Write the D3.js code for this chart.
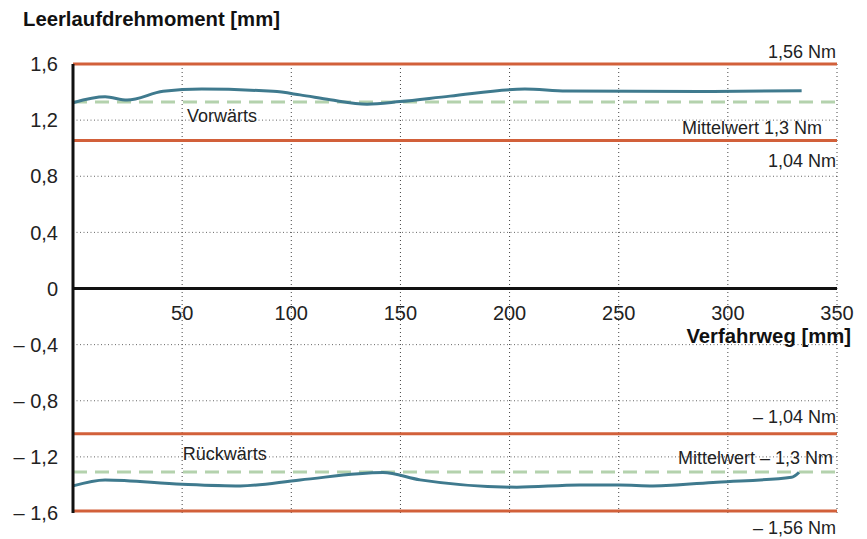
<!DOCTYPE html>
<html>
<head>
<meta charset="utf-8">
<script src="https://cdn.jsdelivr.net/npm/d3@7"></script>
<style>
  body { margin: 0; background: #fff; }
  svg { display: block; font-family: "Liberation Sans", Helvetica, Arial, sans-serif; }
</style>
</head>
<body>
<svg id="svg" width="867" height="539"></svg>
<script>
// forward run (Vorwärts), x in mm, torque value
let forwardX = [0, 14.7, 24.8, 41.3, 59, 91.7, 104, 117.8, 134.7, 149.8, 172.7, 207, 226, 287, 333.8];
let forwardY = [1.324, 1.366, 1.343, 1.405, 1.421, 1.405, 1.38, 1.345, 1.314, 1.332, 1.371, 1.421, 1.407, 1.404, 1.409];

// backward run (Rückwärts)
let backwardX = [0, 14.7, 50, 76.6, 104, 142, 159, 203.3, 232, 250.5, 265.7, 295, 329.2, 332.6];
let backwardY = [-1.407, -1.364, -1.395, -1.407, -1.364, -1.312, -1.364, -1.416, -1.40, -1.40, -1.407, -1.38, -1.345, -1.31];

// limit lines (red) and mean lines (green dashed)
let limitValues = [1.6, 1.055, -1.035, -1.585];
let meanValues = [1.33, -1.307];

let xTicks = [50, 100, 150, 200, 250, 300, 350];
let yTicks = [1.6, 1.2, 0.8, 0.4, 0, -0.4, -0.8, -1.2, -1.6];
let yTickLabels = ["1,6", "1,2", "0,8", "0,4", "0", "\u2013 0,4", "\u2013 0,8", "\u2013 1,2", "\u2013 1,6"];

let limitLabels = ["1,56 Nm", "1,04 Nm", "\u2013 1,04 Nm", "\u2013 1,56 Nm"];
let meanLabels = ["Mittelwert 1,3 Nm", "Mittelwert \u2013 1,3 Nm"];

let red = "#d2603a";
let blue = "#3f7a8e";
let green = "#b4d2ad";

let svg = d3.select("svg");
let margin = {top: 64, right: 30, bottom: 26, left: 73};
let width = 867 - margin.left - margin.right;
let height = 539 - margin.top - margin.bottom;

let x = d3.scaleLinear().domain([0, 350]).range([0, width]);
let y = d3.scaleLinear().domain([-1.6, 1.6]).range([height, 0]);

let g = svg.append("g")
  .attr("transform", "translate(" + margin.left + "," + margin.top + ")");

// dotted grid
g.selectAll(".hgrid")
  .data(yTicks.filter(d => d != 0 && Math.abs(d) < 1.6))
  .enter().append("line")
    .attr("x1", 0).attr("x2", width)
    .attr("y1", d => y(d)).attr("y2", d => y(d))
    .attr("stroke", "#666")
    .attr("stroke-width", 1)
    .attr("stroke-dasharray", "1,2.5");

g.selectAll(".vgrid")
  .data(xTicks)
  .enter().append("line")
    .attr("x1", d => x(d)).attr("x2", d => x(d))
    .attr("y1", 0).attr("y2", height)
    .attr("stroke", "#444")
    .attr("stroke-width", 1)
    .attr("stroke-dasharray", "1,3");

// limit lines
g.selectAll(".limit")
  .data(limitValues)
  .enter().append("line")
    .attr("x1", 0).attr("x2", width)
    .attr("y1", d => y(d)).attr("y2", d => y(d))
    .attr("stroke", red)
    .attr("stroke-width", 3);

// mean lines
g.selectAll(".mean")
  .data(meanValues)
  .enter().append("line")
    .attr("x1", 0).attr("x2", width)
    .attr("y1", d => y(d)).attr("y2", d => y(d))
    .attr("stroke", green)
    .attr("stroke-width", 3)
    .attr("stroke-dasharray", "14,8");

let line = d3.line()
  .x(d => x(d[0]))
  .y(d => y(d[1]))
  .curve(d3.curveMonotoneX);

g.append("path")
  .datum(forwardX.map((v, i) => [v, forwardY[i]]))
  .attr("fill", "none")
  .attr("stroke", blue)
  .attr("stroke-width", 3)
  .attr("stroke-linejoin", "round")
  .attr("d", line);

g.append("path")
  .datum(backwardX.map((v, i) => [v, backwardY[i]]))
  .attr("fill", "none")
  .attr("stroke", blue)
  .attr("stroke-width", 3)
  .attr("stroke-linejoin", "round")
  .attr("d", line);

// axes
g.append("line")
  .attr("x1", 0).attr("x2", width)
  .attr("y1", y(0)).attr("y2", y(0))
  .attr("stroke", "#111").attr("stroke-width", 3);
g.append("line")
  .attr("x1", 0).attr("x2", 0)
  .attr("y1", 0).attr("y2", height)
  .attr("stroke", "#111").attr("stroke-width", 3);

g.selectAll(".ylab")
  .data(yTicks)
  .enter().append("text")
    .attr("x", -15)
    .attr("y", d => y(d))
    .attr("dy", "0.36em")
    .attr("text-anchor", "end")
    .attr("font-size", 20)
    .attr("fill", "#222")
    .text((d, i) => yTickLabels[i]);

g.selectAll(".xlab")
  .data(xTicks)
  .enter().append("text")
    .attr("x", d => x(d))
    .attr("y", y(0) + 31)
    .attr("text-anchor", "middle")
    .attr("font-size", 20)
    .attr("fill", "#222")
    .text(d => d);

// annotations
let labelOffsets = [-6, 27, -11, 23];
g.selectAll(".limlab")
  .data(limitValues)
  .enter().append("text")
    .attr("x", width - 1)
    .attr("y", (d, i) => y(d) + labelOffsets[i])
    .attr("text-anchor", "end")
    .attr("font-size", 18)
    .attr("fill", "#222")
    .text((d, i) => limitLabels[i]);

let meanOffsets = [32, -8];
let meanRight = [width - 15, width - 4];
g.selectAll(".meanlab")
  .data(meanValues)
  .enter().append("text")
    .attr("x", (d, i) => meanRight[i])
    .attr("y", (d, i) => y(d) + meanOffsets[i])
    .attr("text-anchor", "end")
    .attr("font-size", 18)
    .attr("fill", "#222")
    .text((d, i) => meanLabels[i]);

g.append("text")
  .attr("x", x(52.2)).attr("y", y(1.2) + 2)
  .attr("font-size", 18).attr("fill", "#222")
  .text("Vorwärts");
g.append("text")
  .attr("x", x(50.3)).attr("y", y(-1.2) + 3)
  .attr("font-size", 18).attr("fill", "#222")
  .text("Rückwärts");

// axis titles
svg.append("text")
  .attr("x", 23).attr("y", 26)
  .attr("font-size", 20.3).attr("font-weight", "bold").attr("fill", "#111")
  .text("Leerlaufdrehmoment [mm]");
svg.append("text")
  .attr("x", 851).attr("y", 343)
  .attr("text-anchor", "end")
  .attr("font-size", 20.3).attr("font-weight", "bold").attr("fill", "#111")
  .text("Verfahrweg [mm]");
</script>
</body>
</html>
